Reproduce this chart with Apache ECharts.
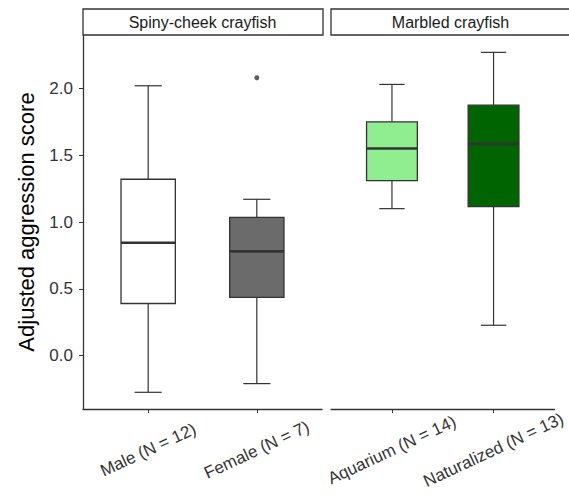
<!DOCTYPE html>
<html>
<head>
<meta charset="utf-8">
<script src="https://cdn.jsdelivr.net/npm/echarts@6/dist/echarts.min.js"></script>
<style>
  html, body { margin: 0; padding: 0; background: #fff; }
  #chart { width: 569px; height: 500px; }
</style>
</head>
<body>
<div id="chart"></div>
<script>
  // panel titles
  var panelNames = ['Spiny-cheek crayfish', 'Marbled crayfish'];
  // categories per panel
  var leftCats = ['Male (N = 12)', 'Female (N = 7)'];
  var rightCats = ['Aquarium (N = 14)', 'Naturalized (N = 13)'];
  // box stats: [lower whisker, Q1, median, Q3, upper whisker]
  var leftStats = [
    [-0.275, 0.39, 0.845, 1.32, 2.02],
    [-0.21, 0.435, 0.78, 1.035, 1.17]
  ];
  var rightStats = [
    [1.10, 1.31, 1.55, 1.75, 2.03],
    [0.227, 1.115, 1.585, 1.875, 2.27]
  ];
  // outliers [category position, value]
  var leftOutliers = [[2, 2.08]];
  var leftColors = ['#ffffff', '#6b6b6b'];
  var rightColors = ['#90ee90', '#006400'];
  var yTicks = [0, 0.5, 1, 1.5, 2];

  var font = '"Liberation Sans", Arial, sans-serif';
  var ink = '#333333';

  // layout of the two facets
  var panelTop = 35, panelH = 374;
  var leftX = 83, rightX = 331, panelW = 239;

  function toData(stats) {
    return stats.map(function (s, i) { return [i + 1].concat(s); });
  }

  function renderBox(colors) {
    return function (params, api) {
      var x = api.value(0);
      var low = api.coord([x, api.value(1)]);
      var q1 = api.coord([x, api.value(2)]);
      var med = api.coord([x, api.value(3)]);
      var q3 = api.coord([x, api.value(4)]);
      var high = api.coord([x, api.value(5)]);
      var hb = api.size([0.5, 0])[0] / 2;
      var hc = api.size([0.25, 0])[0] / 2;
      var cx = low[0];
      var line = { stroke: ink, lineWidth: 1.2 };
      return {
        type: 'group',
        children: [
          { type: 'line', shape: { x1: cx, y1: high[1], x2: cx, y2: q3[1] }, style: line },
          { type: 'line', shape: { x1: cx, y1: low[1], x2: cx, y2: q1[1] }, style: line },
          { type: 'line', shape: { x1: cx - hc, y1: high[1], x2: cx + hc, y2: high[1] }, style: line },
          { type: 'line', shape: { x1: cx - hc, y1: low[1], x2: cx + hc, y2: low[1] }, style: line },
          { type: 'rect', shape: { x: cx - hb, y: q3[1], width: hb * 2, height: q1[1] - q3[1] },
            style: { fill: colors[params.dataIndex], stroke: ink, lineWidth: 1.3 } },
          { type: 'line', shape: { x1: cx - hb, y1: med[1], x2: cx + hb, y2: med[1] },
            style: { stroke: ink, lineWidth: 2.6 } }
        ]
      };
    };
  }

  function xAxisFor(idx, cats) {
    return {
      type: 'value', gridIndex: idx, min: 0.4, max: 2.6,
      splitLine: { show: false },
      axisLine: { show: true, onZero: false, lineStyle: { color: ink, width: 1.3 } },
      axisTick: { show: true, length: 4, customValues: [1, 2], lineStyle: { color: ink } },
      axisLabel: {
        customValues: [1, 2], rotate: 25, align: 'center', verticalAlign: 'middle', margin: 41,
        fontSize: 17, color: ink, fontFamily: font,
        formatter: function (v) { return cats[Math.round(v) - 1]; }
      }
    };
  }

  function header(x, name) {
    return [
      { type: 'rect', shape: { x: x, y: 9, width: panelW + 1, height: 26 },
        style: { fill: '#fff', stroke: ink, lineWidth: 1.3 } },
      { type: 'text', x: x + panelW / 2, y: 22,
        style: { text: name, fill: '#1a1a1a', font: '16px ' + font, align: 'center', verticalAlign: 'middle' } }
    ];
  }

  var chart = echarts.init(document.getElementById('chart'), null, { renderer: 'svg' });
  chart.setOption({
    animation: false,
    backgroundColor: '#fff',
    grid: [
      { left: leftX, top: panelTop, width: panelW, height: panelH },
      { left: rightX, top: panelTop, width: panelW, height: panelH }
    ],
    xAxis: [xAxisFor(0, leftCats), xAxisFor(1, rightCats)],
    yAxis: [
      {
        type: 'value', gridIndex: 0, min: -0.4, max: 2.4,
        name: 'Adjusted aggression score', nameLocation: 'middle', nameGap: 46,
        nameTextStyle: { fontSize: 22, color: '#000', fontFamily: font },
        splitLine: { show: false },
        axisLine: { show: true, lineStyle: { color: ink, width: 1.3 } },
        axisTick: { show: true, length: 4, customValues: yTicks, lineStyle: { color: ink } },
        axisLabel: {
          customValues: yTicks, margin: 10, fontSize: 17, color: ink, fontFamily: font,
          formatter: function (v) { return v.toFixed(1); }
        }
      },
      {
        type: 'value', gridIndex: 1, min: -0.4, max: 2.4, show: false
      }
    ],
    graphic: header(leftX, panelNames[0]).concat(header(rightX, panelNames[1])),
    series: [
      {
        type: 'custom', xAxisIndex: 0, yAxisIndex: 0,
        data: toData(leftStats), renderItem: renderBox(leftColors),
        encode: { x: 0, y: [1, 2, 3, 4, 5] }
      },
      {
        type: 'custom', xAxisIndex: 1, yAxisIndex: 1,
        data: toData(rightStats), renderItem: renderBox(rightColors),
        encode: { x: 0, y: [1, 2, 3, 4, 5] }
      },
      {
        type: 'scatter', xAxisIndex: 0, yAxisIndex: 0,
        data: leftOutliers, symbolSize: 5, itemStyle: { color: ink }
      }
    ]
  });
</script>
</body>
</html>
